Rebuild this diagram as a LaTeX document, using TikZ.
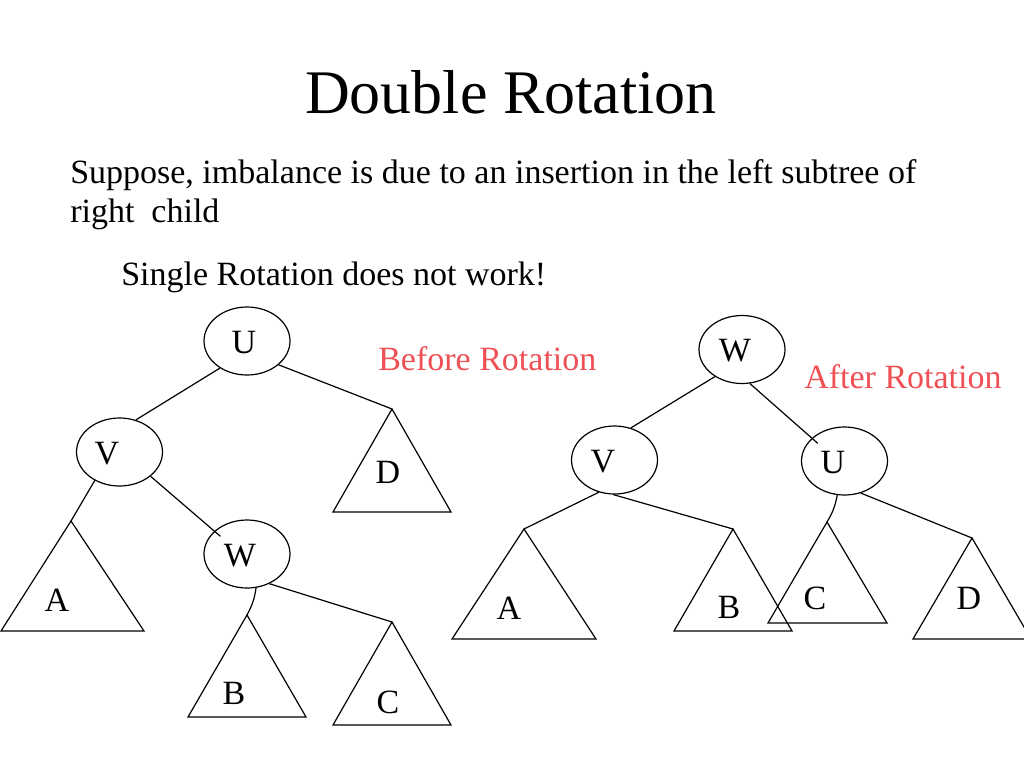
\documentclass[tikz,border=0pt]{standalone}
\usepackage{fontspec}
\setmainfont{Liberation Serif}
\usetikzlibrary{shapes.geometric}
\definecolor{myred}{RGB}{238,80,86}
\tikzset{
  nd/.style={draw, ellipse, minimum width=64.5pt, minimum height=51pt, inner sep=0pt, line width=0.9pt},
  lbl/.style={inner sep=0pt, font=\fontsize{25.5}{30}\selectfont},
  tri/.style={draw, line width=0.9pt, line join=miter},
  conn/.style={line width=0.9pt},
  body/.style={anchor=base west, inner sep=0pt, font=\fontsize{25.5}{30}\selectfont},
  redtxt/.style={body, text=myred}
}
\begin{document}
\begin{tikzpicture}[x=0.75pt,y=-0.75pt]
\clip (0,0) rectangle (1024,768);
\fill[white] (0,0) rectangle (1024,768);

% texts
\node[anchor=base, inner sep=0pt, font=\fontsize{46.5}{50}\selectfont] (title) at (511,113) {Double Rotation};
\node[body] (l1) at (70,183) {Suppose, imbalance is due to an insertion in the left subtree of};
\node[body] (l2) at (70,222) {right\ \ child};
\node[body] (l3) at (121,285) {Single Rotation does not work!};
\node[redtxt] (before) at (378,370) {Before Rotation};
\node[redtxt] (after) at (804,388) {After Rotation};

% ---------- left tree ----------
\node[nd] (uL) at (247,341) {};
\node[nd] (vL) at (119.5,452) {};
\node[nd] (wL) at (247,554) {};
\node[lbl] (uLt) at (244,343) {U};
\node[lbl] (vLt) at (107,454) {V};
\node[lbl] (wLt) at (240,556) {W};

\coordinate (dL) at (392,409);
\coordinate (aL) at (71,521);
\coordinate (bL) at (247,615);
\coordinate (cL) at (392,622);
\draw[tri] (dL) -- (451,512) -- (333,512) -- cycle;
\draw[tri] (aL) -- (144,631) -- (1,631) -- cycle;
\draw[tri] (bL) -- (306,717) -- (188,717) -- cycle;
\draw[tri] (cL) -- (451,725) -- (333,725) -- cycle;
\node[lbl] (dLt) at (388,472) {D};
\node[lbl] (aLt) at (57,600) {A};
\node[lbl] (bLt) at (234,693) {B};
\node[lbl] (cLt) at (388,702) {C};

\draw[conn] (uL.225) -- (vL.63);
\draw[conn] (uL.-37) -- (dL);
\draw[conn] (vL.-131) -- (aL);
\draw[conn, shorten >=-6pt] (vL.-38) -- (wL.145);
\draw[conn] (wL.-75) to[bend left=10] (bL);
\draw[conn] (wL.-53) -- (cL);

% ---------- right tree ----------
\node[nd] (wR) at (742,349.5) {};
\node[nd] (vR) at (614.5,460) {};
\node[nd] (uR) at (844.5,461) {};
\node[lbl] (wRt) at (735,351) {W};
\node[lbl] (vRt) at (603,462) {V};
\node[lbl] (uRt) at (833,463) {U};

\coordinate (aR) at (524,529);
\coordinate (bR) at (733,529);
\coordinate (cR) at (827,522);
\coordinate (dR) at (972,538);
\draw[tri] (aR) -- (596,639) -- (452,639) -- cycle;
\draw[tri] (bR) -- (792,631) -- (674,631) -- cycle;
\draw[tri] (cR) -- (887,623) -- (768,623) -- cycle;
\draw[tri] (dR) -- (1031,639) -- (913,639) -- cycle;
\node[lbl] (aRt) at (509,608) {A};
\node[lbl] (bRt) at (729,607) {B};
\node[lbl] (cRt) at (815,598) {C};
\node[lbl] (dRt) at (969,598) {D};

\draw[conn] (wR.225) -- (vR.63);
\draw[conn, shorten >=-6pt] (wR.-77) -- (uR.145);
\draw[conn] (vR.-116) -- (aR);
\draw[conn] (vR.-92) -- (bR);
\draw[conn] (uR.-102) to[bend left=10] (cR);
\draw[conn] (uR.-63) -- (dR);
\end{tikzpicture}
\end{document}
